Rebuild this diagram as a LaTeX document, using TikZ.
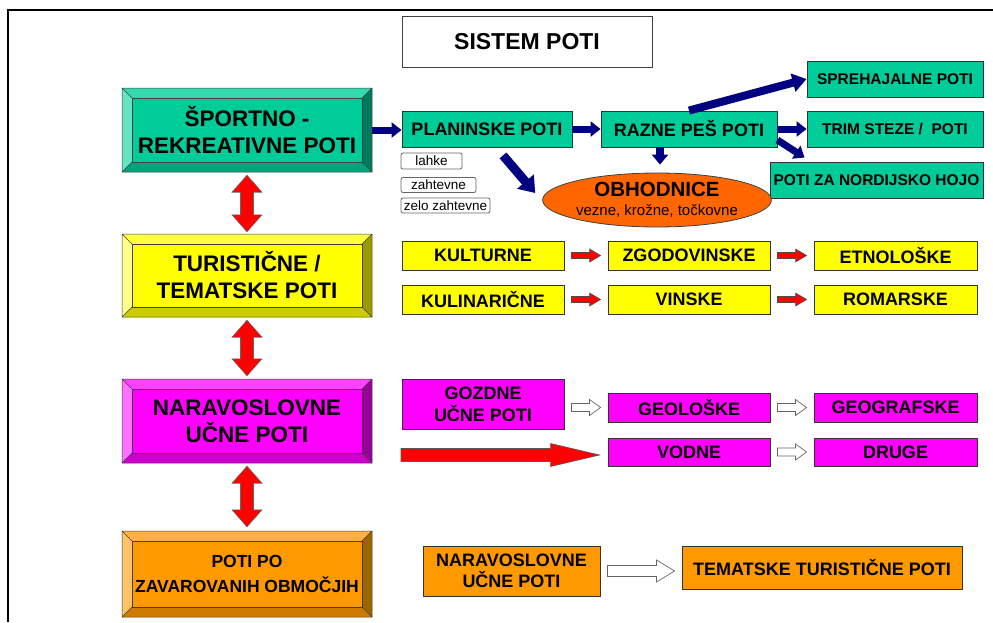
\documentclass[tikz,border=0pt]{standalone}
\usepackage{fontspec}
\setmainfont{Liberation Sans}
\usepackage{tikz}
\usepackage{xcolor}
\usetikzlibrary{arrows.meta,calc,positioning,shapes.geometric}
\definecolor{Teal_Face}{HTML}{00CC99}
\definecolor{Teal_Top}{HTML}{33D9AD}
\definecolor{Teal_Left}{HTML}{66E3C2}
\definecolor{Teal_Right}{HTML}{007A5C}
\definecolor{Teal_Bottom}{HTML}{00A37A}
\definecolor{Yel_Face}{HTML}{FFFF00}
\definecolor{Yel_Top}{HTML}{FFFF40}
\definecolor{Yel_Left}{HTML}{FFFF8C}
\definecolor{Yel_Right}{HTML}{999900}
\definecolor{Yel_Bottom}{HTML}{CCCC00}
\definecolor{Mag_Face}{HTML}{FF00FF}
\definecolor{Mag_Top}{HTML}{FF40FF}
\definecolor{Mag_Left}{HTML}{FF70FF}
\definecolor{Mag_Right}{HTML}{990099}
\definecolor{Mag_Bottom}{HTML}{CC00CC}
\definecolor{Org_Face}{HTML}{FF9900}
\definecolor{Org_Top}{HTML}{FFB040}
\definecolor{Org_Left}{HTML}{FFC266}
\definecolor{Org_Right}{HTML}{996600}
\definecolor{Org_Bottom}{HTML}{CC7A00}
\definecolor{Obh_Fill}{HTML}{FF6600}
\definecolor{Navy_Arrow}{HTML}{000080}

% bevelled box: [opts] name, x1, y1, x2, y2, colour, text
\newcommand{\bevelbox}[8][]{%
  \fill[#7_Top] (#3,#4) -- (#5,#4) -- (#5-10,#4+10) -- (#3+10,#4+10) -- cycle;
  \fill[#7_Left] (#3,#4) -- (#3+10,#4+10) -- (#3+10,#6-10) -- (#3,#6) -- cycle;
  \fill[#7_Right] (#5,#4) -- (#5,#6) -- (#5-10,#6-10) -- (#5-10,#4+10) -- cycle;
  \fill[#7_Bottom] (#3,#6) -- (#5,#6) -- (#5-10,#6-10) -- (#3+10,#6-10) -- cycle;
  \draw[edge, fill=#7_Face] (#3+10,#4+10) rectangle (#5-10,#6-10);
  \draw[edge] (#3,#4) rectangle (#5,#6)
    (#3,#4) -- (#3+10,#4+10) (#5,#4) -- (#5-10,#4+10)
    (#5,#6) -- (#5-10,#6-10) (#3,#6) -- (#3+10,#6-10);
  \node[bigtext, minimum width={#5-#3}, minimum height={#6-#4}, #1] (#2) at ({(#3+#5)/2},{(#4+#6)/2}) {#8};
}
% block arrow, left to right: [style] from, to, shaft, head width, head length
\newcommand{\harrow}[6][]{%
  \draw[#1] let \p1=(#2), \p2=(#3) in
    (\x1,\y2+#4/2) -- (\x2-#6,\y2+#4/2) -- (\x2-#6,\y2+#5/2) -- (\x2,\y2)
    -- (\x2-#6,\y2-#5/2) -- (\x2-#6,\y2-#4/2) -- (\x1,\y2-#4/2) -- cycle;
}
% double headed block arrow, top to bottom
\newcommand{\dblarrow}[2]{%
  \draw[dblred] let \p1=(#1), \p2=(#2) in
    (\x1,\y1) -- (\x1+15,\y1-17) -- (\x1+6.5,\y1-17) -- (\x1+6.5,\y2+17)
    -- (\x1+15,\y2+17) -- (\x1,\y2) -- (\x1-15,\y2+17) -- (\x1-6.5,\y2+17)
    -- (\x1-6.5,\y1-17) -- (\x1-15,\y1-17) -- cycle;
}

\tikzset{
  edge/.style={draw=black!75, line width=0.5pt},
  bigtext/.style={font=\fontsize{22.5}{27}\selectfont\bfseries, align=center, inner sep=0pt},
  pathbox/.style={draw=black!80, line width=0.9pt, inner sep=0pt, align=center,
    font=\fontsize{18}{22}\selectfont\bfseries},
  smallbox/.style={pathbox, font=\fontsize{15.5}{18}\selectfont\bfseries, minimum height=36},
  levelbox/.style={draw=gray!80!black, rounded corners=2pt, inner sep=0pt, line width=0.8pt,
    font=\fontsize{13.5}{15}\selectfont},
  navy/.style={draw=Navy_Arrow, line width=7pt, -{Triangle[width=15pt,length=10pt]}},
  redarrow/.style={fill=red, draw=black!70, line width=0.6pt},
  whitearrow/.style={fill=white, draw=gray!80!black, line width=0.7pt},
  dblred/.style={fill=red, draw=black!60, line width=0.6pt}
}

\begin{document}
\begin{tikzpicture}[x=1pt, y=-1pt]
    \useasboundingbox (0,0) rectangle (993,622);

    % Frame
    \draw[line width=1.3pt] (993,10) -- (8,10) -- (8,622);

    % Title
    \node[draw=black!75, line width=1pt, fill=white, minimum width=250, minimum height=51,
      font=\fontsize{23}{26}\selectfont\bfseries] (sistem) at (527,41.5) {SISTEM POTI};

    % Left column: main groups
    \bevelbox{sport}{122}{88}{372}{172}{Teal}{ŠPORTNO -\\REKREATIVNE POTI}
    \bevelbox{turist}{122}{234}{372}{317}{Yel}{TURISTIČNE /\\TEMATSKE POTI}
    \bevelbox{narav}{122}{379}{372}{463}{Mag}{NARAVOSLOVNE\\UČNE POTI}
    \bevelbox[font=\fontsize{17.5}{25}\selectfont\bfseries]{zavar}{122}{531}{372}{617}{Org}{POTI PO\\ZAVAROVANIH OBMOČJIH}

    \dblarrow{$(sport.south)+(0,3)$}{$(turist.north)+(0,-2)$}
    \dblarrow{$(turist.south)+(0,3)$}{$(narav.north)+(0,-3)$}
    \dblarrow{$(narav.south)+(0,3)$}{$(zavar.north)+(0,-4)$}

    % Sport and recreation paths
    \node[pathbox, fill=Teal_Face, minimum width=170, minimum height=36] (plan) at (487,129) {PLANINSKE POTI};
    \node[pathbox, fill=Teal_Face, minimum width=176, minimum height=36] (razne) at (689,129) {RAZNE PEŠ POTI};
    \node[smallbox, fill=Teal_Face, minimum width=176] (sprehaj) at (895,79) {SPREHAJALNE POTI};
    \node[smallbox, fill=Teal_Face, minimum width=176] (trim) at (895,129) {TRIM STEZE /\ \ POTI};
    \node[smallbox, fill=Teal_Face, minimum width=213] (nord) at (876.5,180) {POTI ZA NORDIJSKO HOJO};
    \node[ellipse, draw=black!75, line width=0.8pt, fill=Obh_Fill, minimum width=200, minimum height=54,
      inner sep=0pt, align=center, font=\fontsize{20.5}{19}\selectfont\bfseries] (obh) at (657,200)
      {OBHODNICE\\{\fontsize{15}{17}\selectfont\mdseries vezne, krožne, točkovne}};

    \node[levelbox, minimum width=61, minimum height=16] (lahke) at (431.5,161) {lahke};
    \node[levelbox, minimum width=75, minimum height=15] (zaht) at (438.5,185) {zahtevne};
    \node[levelbox, minimum width=89, minimum height=15] (zelo) at (445.5,205.5) {zelo zahtevne};

    \draw[navy] (sport.east) -- (sport.east -| plan.west);
    \draw[navy] (plan.east) -- (razne.west);
    \draw[navy] (razne.east) -- (trim.west);
    \draw[navy] ($(razne.east)+(0,11)$) -- ($(nord.north west)+(35,-4)$);
    \draw[navy, line width=8pt, -{Triangle[width=18pt,length=14pt]}] (razne.north) -- (sprehaj.west);
    \draw[navy, line width=8pt, -{Triangle[width=16pt,length=10pt]}] ($(razne.south)+(-29,0)$) -- ($(obh.north)+(3,-8)$);
    \draw[navy, line width=9pt, -{Triangle[width=21pt,length=15pt]}] ($(plan.south)+(16,8)$) -- ($(obh.west)+(-7,-7)$);

    % Tourist / thematic paths
    \node[pathbox, fill=Yel_Face, minimum width=162, minimum height=29] (kult) at (483,255.5) {KULTURNE};
    \node[pathbox, fill=Yel_Face, minimum width=162, minimum height=29] (zgod) at (689,255.5) {ZGODOVINSKE};
    \node[pathbox, fill=Yel_Face, minimum width=163, minimum height=29] (etno) at (895.5,255.5) {ETNOLOŠKE};
    \node[pathbox, fill=Yel_Face, minimum width=162, minimum height=29] (kulin) at (483,299.5) {KULINARIČNE};
    \node[pathbox, fill=Yel_Face, minimum width=162, minimum height=29] (vin) at (689,299.5) {VINSKE};
    \node[pathbox, fill=Yel_Face, minimum width=163, minimum height=29] (romar) at (895.5,299.5) {ROMARSKE};

    \harrow[redarrow]{$(kult.east)+(7,0)$}{$(zgod.west)+(-7,0)$}{6}{13}{11}
    \harrow[redarrow]{$(zgod.east)+(7,0)$}{$(etno.west)+(-7,0)$}{6}{13}{11}
    \harrow[redarrow]{$(kulin.east)+(7,0)$}{$(vin.west)+(-7,0)$}{6}{13}{11}
    \harrow[redarrow]{$(vin.east)+(7,0)$}{$(romar.west)+(-7,0)$}{6}{13}{11}

    % Nature study paths
    \node[pathbox, fill=Mag_Face, minimum width=162, minimum height=50] (gozd) at (483,404) {GOZDNE\\UČNE POTI};
    \node[pathbox, fill=Mag_Face, minimum width=162, minimum height=29] (geol) at (689,407.5) {GEOLOŠKE};
    \node[pathbox, fill=Mag_Face, minimum width=163, minimum height=29] (geog) at (895.5,407.5) {GEOGRAFSKE};
    \node[pathbox, fill=Mag_Face, minimum width=162, minimum height=28] (vodne) at (689,452) {VODNE};
    \node[pathbox, fill=Mag_Face, minimum width=163, minimum height=28] (druge) at (895.5,452) {DRUGE};
    \coordinate (redstart) at (401,455);

    \harrow[whitearrow]{$(gozd.east)+(7,0)$}{$(geol.west)+(-7,0)$}{8}{16}{11}
    \harrow[whitearrow]{$(geol.east)+(7,0)$}{$(geog.west)+(-7,0)$}{8}{16}{11}
    \harrow[whitearrow]{$(vodne.east)+(7,0)$}{$(druge.west)+(-7,0)$}{8}{16}{11}
    \harrow[redarrow, draw=gray!70!black]{redstart}{$(vodne.west)+(-8,3)$}{13}{23}{49}

    % Protected areas
    \node[pathbox, fill=Org_Face, minimum width=177, minimum height=50, font=\fontsize{18}{21}\selectfont\bfseries] (narsmall) at (511.5,571) {NARAVOSLOVNE\\UČNE POTI};
    \node[pathbox, fill=Org_Face, minimum width=280, minimum height=43] (temat) at (822,567.5) {TEMATSKE TURISTIČNE POTI};

    \harrow[whitearrow]{$(narsmall.east)+(7,0)$}{$(temat.west)+(-7,3.5)$}{11}{22}{18}

\end{tikzpicture}
\end{document}
